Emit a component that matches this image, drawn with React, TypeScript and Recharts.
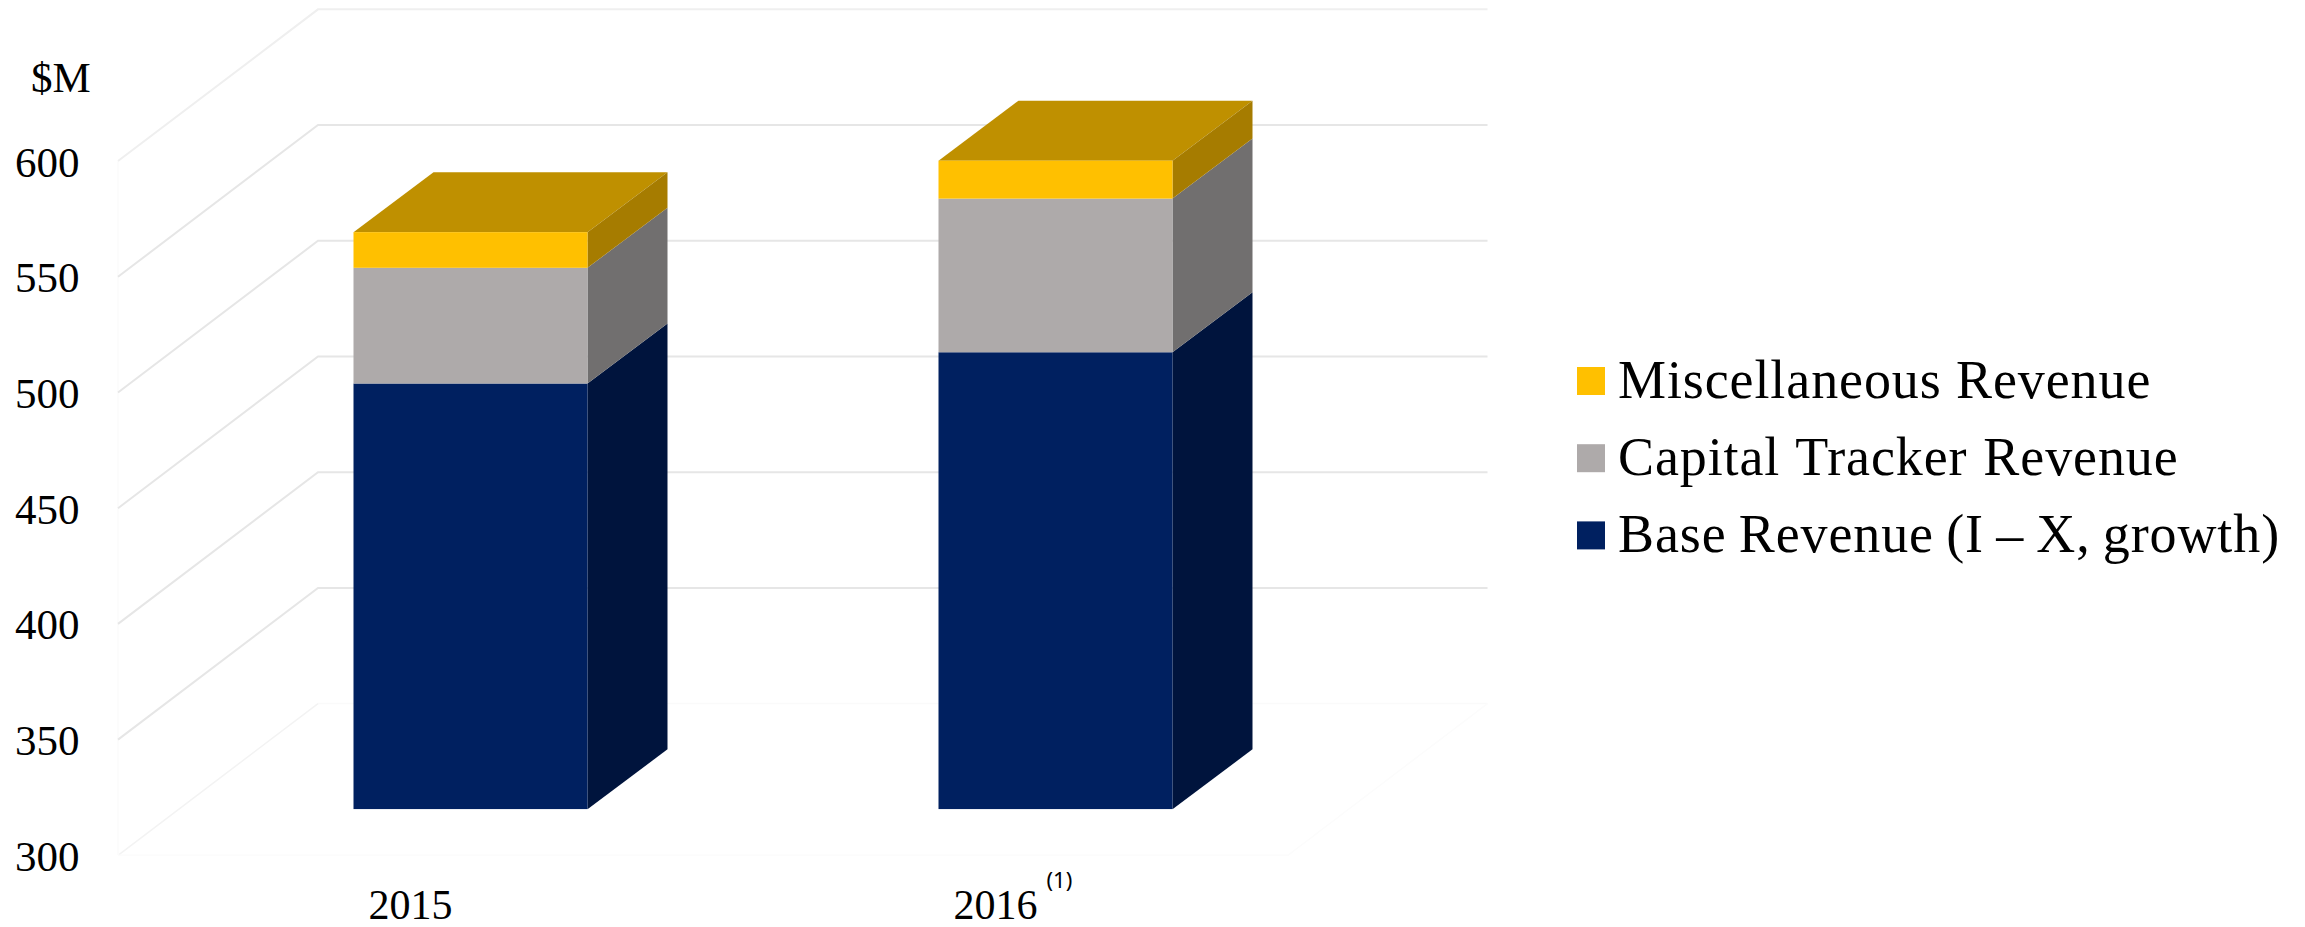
import React from 'react';
import { BarChart, Bar, XAxis, YAxis, CartesianGrid, Legend, Label } from 'recharts';

const years = ['2015', '2016'];
const yearNotes = ['', '(1)'];
const baseRevenue = [484, 497.5];
const capitalTracker = [50, 66.4];
const miscRevenue = [15.4, 16.4];
const yTicks = [300, 350, 400, 450, 500, 550, 600];

const rows = years.map((year, i) => ({
  year,
  base: baseRevenue[i],
  capital: capitalTracker[i],
  misc: miscRevenue[i],
}));

const SERIF = '"Liberation Serif", "Times New Roman", serif';

// fake 3d: how far the bar depth goes, and where the walls sit relative to the bar plane
const BAR_DX = 80;
const BAR_DY = 60;
const FRONT_DX = -59.5;
const FRONT_DY = 46;
const BACK_DX = 140.5;
const BACK_DY = -105.7;

// small per-row tweak so the legend lines end where the original's do
const legendWordSpacing = [0, 1.5, -2.2];

const Block = (props: any) => {
  const { x, y, width, height, fill, sideFill, topFill } = props;
  const r = x + width;
  const b = y + height;
  return (
    <g>
      {topFill && (
        <path
          d={`M${x},${y} L${x + BAR_DX},${y - BAR_DY} L${r + BAR_DX},${y - BAR_DY} L${r},${y} Z`}
          fill={topFill}
        />
      )}
      <path
        d={`M${r},${y} L${r + BAR_DX},${y - BAR_DY} L${r + BAR_DX},${b - BAR_DY} L${r},${b} Z`}
        fill={sideFill}
      />
      <rect x={x} y={y} width={width} height={height} fill={fill} />
    </g>
  );
};

const gridLine = (props: any) => {
  const { x1, x2, y1, index } = props;
  // the grid also hands us the top edge of the plot, which has no tick
  if (y1 < 100) return <g key={`wall-${index}`} />;
  const isFloor = y1 > 800;
  const isTop = y1 < 120;
  const frontX = x1 + FRONT_DX;
  const backX = x1 + BACK_DX;
  const backR = x2 + BACK_DX - 0.5;
  const frontY = y1 + FRONT_DY;
  const backY = y1 + BACK_DY;
  if (isFloor) {
    return (
      <g key={`wall-${index}`} fill="none" strokeWidth={1.5}>
        <path d={`M${frontX},${frontY} L${backX},${backY}`} stroke="#f3f3f3" />
        <path d={`M${backX},${backY} L${backR},${backY}`} stroke="#fafafa" />
        <path
          d={`M${frontX},${frontY} L${x2 + FRONT_DX},${frontY} L${backR},${backY} M${frontX},${frontY} L${frontX},${frontY - 694}`}
          stroke="#fcfcfc"
        />
      </g>
    );
  }
  return (
    <path
      key={`wall-${index}`}
      d={`M${frontX},${frontY} L${backX},${backY} L${backR},${backY}`}
      fill="none"
      stroke={isTop ? '#efefef' : '#e6e6e6'}
      strokeWidth={2}
    />
  );
};

const YTick = ({ y, payload }: any) => (
  <text
    x={79.5}
    y={y + FRONT_DY + 15.5}
    textAnchor="end"
    fontFamily={SERIF}
    fontSize={43}
    fill="#000"
  >
    {payload.value}
  </text>
);

const XTick = ({ x, y, payload, index }: any) => {
  const cx = x + FRONT_DX;
  return (
    <g>
      <text x={cx} y={919} textAnchor="middle" fontFamily={SERIF} fontSize={42} fill="#000">
        {payload.value}
      </text>
      {yearNotes[index] && (
        <text x={cx + 51} y={888} fontFamily='"Noto Sans", sans-serif' fontSize={22} fill="#000">
          {yearNotes[index]}
        </text>
      )}
    </g>
  );
};

const LegendBlock = ({ payload }: any) => {
  const items = [...(payload || [])].reverse();
  return (
    <svg width={728} height={240} style={{ display: 'block' }}>
      {items.map((item: any, i: number) => (
        <g key={item.value}>
          <rect x={0} y={20 + i * 77.2} width={28} height={28} fill={item.color} />
          <text
            x={41}
            y={20 + i * 77.2 + 30.5}
            fontFamily={SERIF}
            fontSize={54}
            letterSpacing={0.9}
            wordSpacing={legendWordSpacing[i]}
            fill="#000"
          >
            {item.value}
          </text>
        </g>
      ))}
    </svg>
  );
};

export default function App() {
  return (
    <div style={{ position: 'absolute', left: 0, top: 0, background: '#fff' }}>
      <BarChart
        width={2305}
        height={927}
        data={rows}
        margin={{ top: 22.5, right: 957.5, bottom: 17.7, left: 0 }}
      >
        <CartesianGrid vertical={false} horizontal={gridLine} />
        <XAxis
          dataKey="year"
          height={100}
          axisLine={false}
          tickLine={false}
          interval={0}
          tick={XTick}
        />
        <YAxis
          width={177.5}
          domain={[300, 640]}
          allowDataOverflow
          ticks={yTicks}
          interval={0}
          axisLine={false}
          tickLine={false}
          tick={YTick}
        >
          <Label
            content={() => (
              <text x={31} y={92} fontFamily={SERIF} fontSize={43} fill="#000">
                $M
              </text>
            )}
          />
        </YAxis>
        <Legend
          layout="vertical"
          align="center"
          verticalAlign="middle"
          content={LegendBlock}
          wrapperStyle={{ left: 1576.5, top: 347.3, width: 728, height: 240, right: 'auto', bottom: 'auto' }}
        />
        <Bar
          dataKey="base"
          name="Base Revenue (I – X, growth)"
          stackId="rev"
          barSize={234}
          fill="#002060"
          isAnimationActive={false}
          shape={(p: any) => <Block {...p} fill="#002060" sideFill="#00143D" />}
        />
        <Bar
          dataKey="capital"
          name="Capital Tracker Revenue"
          stackId="rev"
          barSize={234}
          fill="#AEAAAA"
          isAnimationActive={false}
          shape={(p: any) => <Block {...p} fill="#AEAAAA" sideFill="#716F6F" />}
        />
        <Bar
          dataKey="misc"
          name="Miscellaneous Revenue"
          stackId="rev"
          barSize={234}
          fill="#FFC000"
          isAnimationActive={false}
          shape={(p: any) => <Block {...p} fill="#FFC000" sideFill="#A67C00" topFill="#BF9000" />}
        />
      </BarChart>
    </div>
  );
}
